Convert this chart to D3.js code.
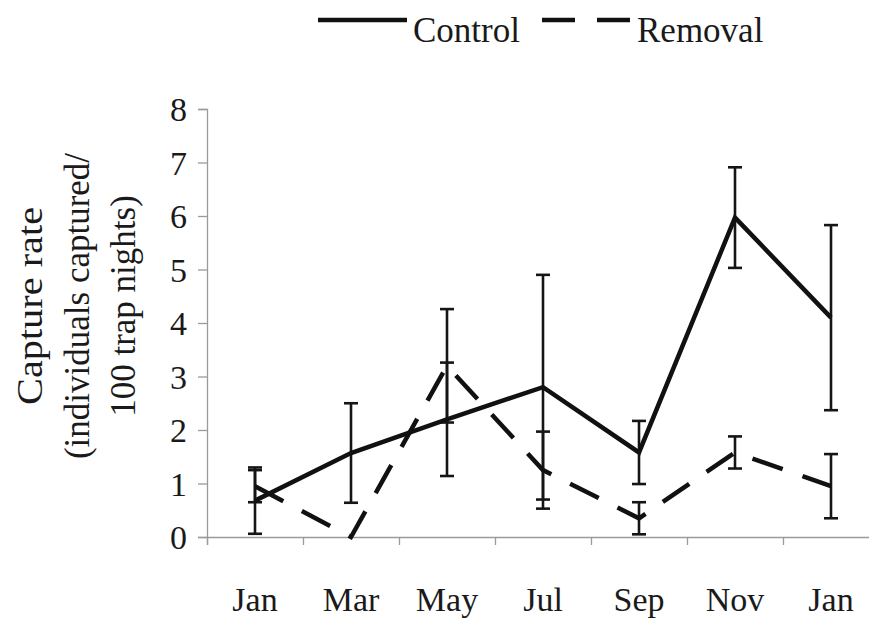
<!DOCTYPE html>
<html>
<head>
<meta charset="utf-8">
<title>Capture rate</title>
<script src="https://d3js.org/d3.v7.min.js"></script>
<style>
  body { margin: 0; background: #fff; }
  svg text { font-family: "Liberation Serif", "Times New Roman", serif; fill: #1a1a1a; }
  .axis path, .axis line { stroke: #9a9a9a; stroke-width: 1.3; }
</style>
</head>
<body>
<svg width="869" height="624"></svg>
<script>
// data
var months = ["Jan", "Mar", "May", "Jul", "Sep", "Nov", "Jan"];
var control = [0.68, 1.57, 2.2, 2.8, 1.58, 5.97, 4.1];
var controlErr = [0.62, 0.93, 1.06, 2.1, 0.59, 0.94, 1.73];
var removal = [0.95, 0, 3.2, 1.25, 0.35, 1.58, 0.95];
var removalErr = [0.3, 0, 1.06, 0.72, 0.3, 0.3, 0.6];
var yTicks = [0, 1, 2, 3, 4, 5, 6, 7, 8];

var svg = d3.select("svg");

var x = d3.scaleBand()
  .domain(d3.range(months.length))
  .range([207, 879]);

// separators between months
var xb = d3.scaleLinear().domain([0, months.length]).range(x.range());

var y = d3.scaleLinear()
  .domain([0, 8])
  .range([537, 109]);

function cx(i) { return x(i) + x.bandwidth() / 2; }

// y axis
svg.append("g")
  .attr("class", "axis")
  .attr("transform", "translate(207,0)")
  .call(d3.axisLeft(y).tickValues(yTicks).tickSize(9).tickPadding(11))
  .call(function(g) {
    g.selectAll("text").attr("font-size", 34).attr("dy", "0.34em");
  });

// x axis line + ticks
svg.append("g")
  .attr("class", "axis")
  .attr("transform", "translate(0,537)")
  .call(d3.axisBottom(xb).tickValues(d3.range(months.length)).tickSize(8).tickFormat(""));

// x labels
svg.append("g")
  .attr("class", "axis labels")
  .attr("transform", "translate(0,537)")
  .call(d3.axisBottom(x).tickSize(0).tickPadding(74).tickFormat(function(i) { return months[i]; }))
  .call(function(g) {
    g.select(".domain").remove();
    g.selectAll("text").attr("font-size", 34).attr("dy", 0);
  });

// y title
var title = svg.append("g")
  .attr("transform", "translate(0,306) rotate(-90)")
  .attr("text-anchor", "middle");
var tlines = ["Capture rate", "(individuals captured/", "100 trap nights)"];
title.selectAll("text")
  .data(tlines)
  .enter().append("text")
    .attr("x", 0)
    .attr("y", function(d, i) { return 42 + i * 46.5; })
    .attr("font-size", 35)
    .text(function(d) { return d; });
title.select("text")
  .attr("textLength", 198)
  .attr("lengthAdjust", "spacingAndGlyphs");

// error bars
function errorBars(vals, errs) {
  var g = svg.append("g")
    .attr("stroke", "#151515")
    .attr("stroke-width", 2.6);
  vals.forEach(function(v, i) {
    if (!errs[i]) return;
    var hi = y(v + errs[i]), lo = y(Math.max(0, v - errs[i])), c = cx(i);
    g.append("line").attr("x1", c).attr("x2", c).attr("y1", hi).attr("y2", lo);
    g.append("line").attr("x1", c - 7).attr("x2", c + 7).attr("y1", hi).attr("y2", hi);
    g.append("line").attr("x1", c - 7).attr("x2", c + 7).attr("y1", lo).attr("y2", lo);
  });
}
errorBars(control, controlErr);
errorBars(removal, removalErr);

var line = d3.line()
  .x(function(d, i) { return cx(i); })
  .y(function(d) { return y(d); });

svg.append("path")
  .datum(removal)
  .attr("fill", "none")
  .attr("stroke", "#111")
  .attr("stroke-width", 4.5)
  .attr("stroke-dasharray", "32,21")
  .attr("d", line);

svg.append("path")
  .datum(control)
  .attr("fill", "none")
  .attr("stroke", "#111")
  .attr("stroke-width", 4.5)
  .attr("stroke-linejoin", "miter")
  .attr("d", line);

// legend
var legend = svg.append("g");
legend.append("line")
  .attr("x1", 318).attr("x2", 407).attr("y1", 20).attr("y2", 20)
  .attr("stroke", "#111").attr("stroke-width", 4.5);
legend.append("text")
  .attr("x", 413).attr("y", 42).attr("font-size", 35)
  .text("Control");
legend.append("line")
  .attr("x1", 542).attr("x2", 630).attr("y1", 20).attr("y2", 20)
  .attr("stroke", "#111").attr("stroke-width", 4.5)
  .attr("stroke-dasharray", "33,22");
legend.append("text")
  .attr("x", 637).attr("y", 42).attr("font-size", 35)
  .text("Removal");
</script>
</body>
</html>
